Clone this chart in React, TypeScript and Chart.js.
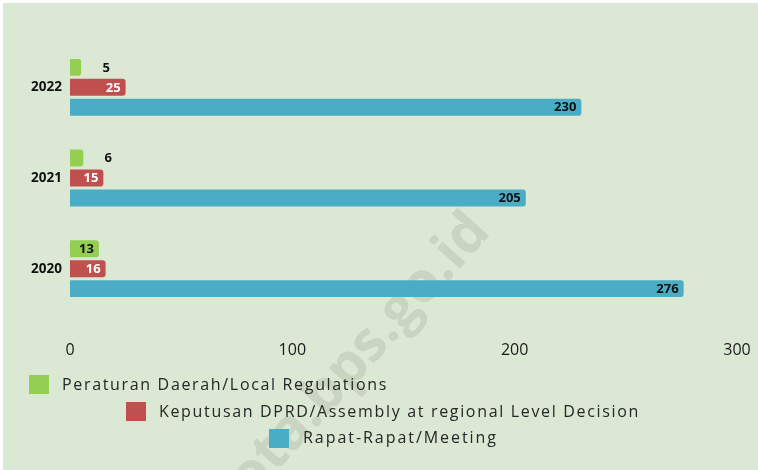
import React, { useEffect, useRef } from "react";
import { Chart, registerables } from "chart.js";

Chart.register(...registerables);

const categories = ["2022", "2021", "2020"];
const seriesNames = [
  "Peraturan Daerah/Local Regulations",
  "Keputusan DPRD/Assembly at regional Level Decision",
  "Rapat-Rapat/Meeting",
];
const peraturanDaerah = [5, 6, 13];
const keputusanDPRD = [25, 15, 16];
const rapatRapat = [230, 205, 276];
const xTicks = [0, 100, 200, 300];
const watermarkText = "kota.bps.go.id";

const COLORS = ["#94cf52", "#c0504d", "#4bacc6"];
const LABEL_COLORS = ["#111111", "#ffffff", "#111111"];
const BG = "#dbe8d3";

// legend layout (positions / styles only)
const LEGEND_LAYOUT = [
  { sx: 29, sy: 375, tx: 62, tw: 326, cy: 385 },
  { sx: 126, sy: 402, tx: 159, tw: 481, cy: 412 },
  { sx: 269, sy: 429, tx: 303, tw: 195, cy: 438 },
];

const FONT = "'Open Sans', 'Noto Sans', sans-serif";

const bgPlugin = {
  id: "bgPlugin",
  beforeDraw(chart: any) {
    const ctx = chart.ctx;
    ctx.save();
    ctx.fillStyle = "#ffffff";
    ctx.fillRect(0, 0, chart.width, chart.height);
    ctx.fillStyle = BG;
    ctx.fillRect(3, 3, chart.width - 3, chart.height - 3);
    // watermark
    ctx.translate(480, 222);
    ctx.rotate((-48 * Math.PI) / 180);
    ctx.font = `bold 56px ${FONT}`;
    ctx.fillStyle = "rgba(110,120,105,0.17)";
    ctx.textAlign = "right";
    ctx.textBaseline = "middle";
    ctx.fillText(watermarkText, 0, 0);
    ctx.restore();
  },
};

const labelPlugin = {
  id: "labelPlugin",
  afterDatasetsDraw(chart: any) {
    const ctx = chart.ctx;
    ctx.save();
    ctx.font = `bold 13px ${FONT}`;
    ctx.textBaseline = "middle";
    chart.data.datasets.forEach((ds: any, di: number) => {
      const meta = chart.getDatasetMeta(di);
      meta.data.forEach((bar: any, i: number) => {
        const v = ds.data[i];
        const txt = String(v);
        const w = ctx.measureText(txt).width;
        const barW = bar.x - bar.base;
        if (barW > w + 10) {
          ctx.fillStyle = LABEL_COLORS[di];
          ctx.textAlign = "right";
          ctx.fillText(txt, bar.x - 5, bar.y + 0.5);
        } else {
          ctx.fillStyle = "#111111";
          ctx.textAlign = "center";
          ctx.fillText(txt, bar.x + 25, bar.y + 0.5);
        }
      });
    });
    ctx.restore();
  },
};

const legendPlugin = {
  id: "legendPlugin",
  afterDraw(chart: any) {
    const ctx = chart.ctx;
    ctx.save();
    ctx.font = `16px ${FONT}`;
    ctx.textBaseline = "middle";
    ctx.textAlign = "left";
    chart.data.datasets.forEach((ds: any, di: number) => {
      const L = LEGEND_LAYOUT[di];
      ctx.fillStyle = ds.backgroundColor;
      ctx.fillRect(L.sx, L.sy, 20, 19);
      ctx.fillStyle = "#262626";
      const label = ds.label as string;
      (ctx as any).letterSpacing = "0px";
      const w = ctx.measureText(label).width;
      const sp = (L.tw - w) / label.length;
      (ctx as any).letterSpacing = `${sp}px`;
      ctx.fillText(label, L.tx, L.cy);
      (ctx as any).letterSpacing = "0px";
    });
    ctx.restore();
  },
};

export default function App() {
  const ref = useRef<HTMLCanvasElement | null>(null);
  useEffect(() => {
    if (!ref.current) return;
    const values = [peraturanDaerah, keputusanDPRD, rapatRapat];
    const chart = new Chart(ref.current, {
      type: "bar",
      data: {
        labels: categories,
        datasets: values.map((d, i) => ({
          label: seriesNames[i],
          data: d,
          backgroundColor: COLORS[i],
          borderRadius: 3,
          borderSkipped: "start",
          categoryPercentage: 0.66,
          barPercentage: 0.85,
        })),
      },
      options: {
        indexAxis: "y",
        animation: false,
        responsive: false,
        maintainAspectRatio: false,
        devicePixelRatio: 1,
        layout: { padding: { left: 0, right: 21, top: 42, bottom: 0 } },
        plugins: {
          legend: { display: false },
          tooltip: { enabled: false },
        },
        scales: {
          x: {
            type: "linear",
            min: xTicks[0],
            max: xTicks[xTicks.length - 1],
            afterFit: (s: any) => {
              s.height = 156;
              s.paddingLeft = 0;
              s.paddingRight = 0;
            },
            afterBuildTicks: (s: any) => {
              s.ticks = xTicks.map((v) => ({ value: v }));
            },
            grid: { display: false, drawTicks: false },
            border: { display: false },
            ticks: {
              padding: 27,
              color: "#1a1a1a",
              font: { family: FONT, size: 16 },
              maxRotation: 0,
            },
          },
          y: {
            type: "category",
            afterFit: (s: any) => {
              s.width = 70;
            },
            grid: { display: false, drawTicks: false },
            border: { display: false },
            ticks: {
              padding: 8,
              color: "#111111",
              font: { family: FONT, size: 13.5, weight: "bold" },
            },
          },
        },
      } as any,
      plugins: [bgPlugin, labelPlugin, legendPlugin],
    });
    return () => chart.destroy();
  }, []);
  return (
    <div style={{ position: "fixed", left: 0, top: 0, width: 758, height: 470 }}>
      <canvas ref={ref} width={758} height={470} style={{ display: "block" }} />
    </div>
  );
}
